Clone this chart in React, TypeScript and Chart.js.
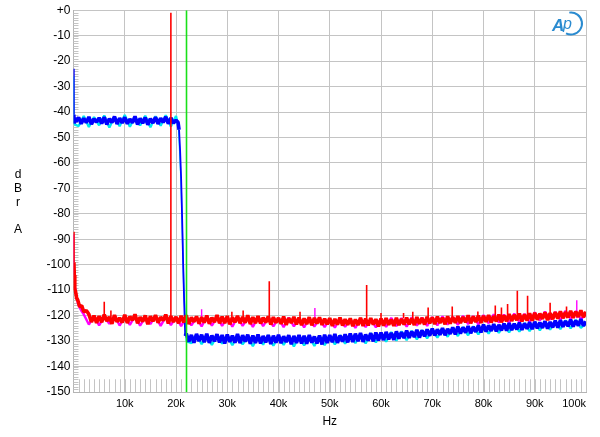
import { useEffect, useRef } from "react";
import { Chart, registerables } from "chart.js";
Chart.register(...registerables);

const range = (a: number, b: number, s: number) => {
  const r: number[] = [];
  for (let v = a; v <= b; v += s) r.push(v);
  return r;
};

// ---------- axes ----------
const X_MIN = 0;
const X_MAX = 100000;
const Y_MIN = -150;
const Y_MAX = 0;
const X_TICKS = [10000, 20000, 30000, 40000, 50000, 60000, 70000, 80000, 90000, 100000];
const X_TICK_LABELS = ["10k", "20k", "30k", "40k", "50k", "60k", "70k", "80k", "90k", "100k"];
const X_MINOR = range(1000, 99000, 1000);
const Y_MINOR = range(-149, -1, 1);
const Y_TITLE = ["d", "B", "r", "", "A"];
const X_TITLE = "Hz";

// ---------- red (channel 1) ----------
const RED_FREQS = [20, 80, 150, 250, 400, 600, 850, 1200, 1600, 2000, 2500, ...range(3000, 100000, 500)];
const RED_DB = [
  -87, -99, -104, -109.5, -110.5, -113, -114, -116.5, -116, -118.5, -118,
  -119.5, -122.5, -120, -122.8,
  -120.2, -122.6, -119.6, -122.1, -120.5, -123.2, -119.8, -122.4, -120.9, -122.7,
  -119.7, -122.9, -120.4, -121.8, -119.5, -123.0, -120.6, -122.3, -119.9, -123.4,
  -120.3, -122.2, -119.8, -122.8, -120.6, -121.9, -119.6, -123.1, -120.2, -122.5,
  -120.5, -123.0, -120.1, -122.6, -119.9, -123.3, -120.7, -122.4, -120.3, -123.1,
  -120.6, -122.7, -120.0, -123.2, -120.8, -122.5, -119.8, -123.0, -120.4, -122.9,
  -120.2, -123.4, -120.7, -122.6, -120.1, -123.0, -120.5, -122.8, -119.9, -123.3,
  -120.6, -122.9, -120.2, -123.1, -120.8, -122.7, -120.3, -123.5, -120.6, -122.8,
  -120.9, -123.2, -120.4, -123.6, -121.0, -122.9, -120.5, -123.4, -120.8, -123.7,
  -121.1, -123.3, -120.6, -123.8, -120.9, -123.1, -120.7, -123.6, -121.2, -123.4,
  -121.0, -124.0, -121.3, -123.5, -120.8, -123.9, -121.4, -123.6, -121.1, -124.1,
  -121.5, -123.7, -120.9, -124.0, -121.2, -123.8, -121.0, -123.5, -121.4, -124.2,
  -121.2, -123.9, -121.0, -123.6, -121.5, -124.0, -120.9, -123.7, -121.3, -123.5,
  -120.8, -123.4, -121.1, -123.7, -120.6, -123.2, -120.9, -123.5, -120.5, -123.0,
  -120.7, -123.3, -120.4, -122.9, -120.8, -123.4, -120.3, -123.1, -120.6, -122.8,
  -120.2, -122.9, -120.5, -122.6, -119.9, -123.0, -120.3, -122.5, -120.0, -122.8,
  -120.1, -122.4, -119.8, -122.7, -120.2, -122.3, -119.6, -122.6, -119.9, -122.2,
  -119.4, -122.1, -119.7, -121.8, -119.2, -122.3, -119.5, -121.9, -119.1, -122.0,
  -118.9, -121.6, -119.2, -121.3, -118.7, -121.8, -119.0, -121.4, -118.6, -121.2,
  -118.3, -121.0, -118.6, -120.7, -118.1, -120.9, -118.4, -120.5, -117.9, -120.6,
  -118.5,
];
const RED_SPIKE_FREQS = [6000, 7300, 19000, 30900, 33100, 38200, 44200, 57200, 60000, 64400, 66200, 69200, 73900, 78900, 82300, 83500, 84700, 86600, 88600, 93000, 96200];
const RED_SPIKE_DB = [-114.5, -118, -1, -118.5, -118, -106.5, -118.5, -108, -119, -119, -118.5, -116.8, -116.4, -118.4, -116, -116.8, -115.4, -110.2, -112.2, -114.9, -116.4];
const SPIKE_BASE_DB = -121;

// ---------- magenta (channel 2) ----------
const MAG_FREQS = [20, 100, 300, 600, 1000, 1500, 2000, ...range(3000, 100000, 1000)];
const MAG_DB = [
  -88, -102, -109, -113, -116, -118, -119.5,
  -123.5, -120.2, -123.8, -120.5, -123.2, -120.0, -123.9,
  -120.4, -123.6, -120.1, -123.9, -120.6, -123.3, -120.2, -124.0, -120.5, -123.7,
  -120.7, -124.1, -120.4, -123.8, -120.9, -124.2, -120.3, -123.9, -120.6, -124.0,
  -120.8, -124.3, -120.5, -124.0, -121.0, -124.4, -120.6, -124.1, -120.9, -124.2,
  -121.1, -124.5, -120.8, -124.2, -121.3, -124.6, -120.9, -124.3, -121.2, -124.5,
  -121.4, -124.7, -121.0, -124.4, -121.5, -124.8, -121.1, -124.5, -121.3, -124.6,
  -121.2, -124.4, -120.9, -124.1, -121.0, -124.3, -120.7, -123.9, -120.8, -124.0,
  -120.6, -123.8, -120.3, -123.5, -120.5, -123.6, -120.1, -123.3, -120.2, -123.4,
  -119.8, -123.0, -119.5, -122.7, -119.6, -122.8, -119.2, -122.4, -119.3, -122.5,
  -118.7, -121.9, -118.4, -121.6, -118.5, -121.7, -118.1, -121.3, -118.2, -121.4,
  -119.5,
];
const MAG_SPIKE_FREQS = [25000, 47100, 98200];
const MAG_SPIKE_DB = [-117.5, -117, -114];

// ---------- blue (channel 1, reference) ----------
const BLUE_FREQS = [20, 60, 150, 300, ...range(500, 20000, 500), 20400, 20600, 20800, 21000, 21200, 21400, 21600, 21800, ...range(22000, 100000, 500)];
const BLUE_DB = [
  -23, -41, -44.5, -42.3,
  -43.8, -42.1, -44.6, -42.5, -44.2, -41.9, -44.8, -42.7, -44.0,
  -42.3, -44.5, -42.0, -44.9, -42.6, -44.1, -41.8, -44.7, -42.4, -44.3,
  -42.1, -44.6, -42.8, -44.2, -41.7, -44.9, -42.5, -44.4, -42.2, -45.0,
  -42.6, -44.3, -42.0, -44.7, -42.4, -44.1, -41.9, -44.6, -42.3, -44.4,
  -43.2,
  -44, -47, -55, -66, -82, -100, -115, -128,
  -127.0, -130.2, -127.6, -130.6, -127.2, -130.0,
  -127.5, -130.4, -127.1, -130.7, -127.8, -130.1, -127.3, -130.5, -127.6, -130.9,
  -127.4, -130.3, -127.9, -130.6, -127.2, -130.8, -127.7, -130.2, -127.5, -131.0,
  -127.8, -130.7, -127.4, -130.9, -128.0, -130.5, -127.6, -131.1, -127.9, -130.6,
  -127.5, -130.8, -128.1, -130.4, -127.7, -131.2, -128.0, -130.7, -127.6, -130.9,
  -127.9, -131.0, -127.6, -130.6, -128.2, -130.9, -127.8, -131.3, -127.5, -130.7,
  -127.6, -130.4, -127.2, -130.7, -127.8, -130.2, -127.3, -130.5, -127.0, -130.3,
  -127.1, -130.0, -126.8, -130.3, -127.4, -129.8, -126.9, -130.1, -126.6, -129.7,
  -126.7, -129.6, -126.4, -129.3, -126.8, -129.5, -126.2, -129.0, -126.5, -128.8,
  -125.9, -128.7, -126.2, -128.4, -125.6, -128.6, -125.8, -128.1, -125.4, -127.9,
  -125.1, -127.8, -125.4, -127.5, -124.9, -127.7, -125.2, -127.2, -124.6, -127.4,
  -124.3, -127.0, -124.6, -126.7, -124.1, -126.9, -124.4, -126.4, -123.8, -126.6,
  -123.5, -126.3, -123.8, -126.0, -123.3, -126.2, -123.6, -125.8, -123.1, -125.9,
  -122.9, -125.7, -123.2, -125.4, -122.7, -125.6, -123.0, -125.2, -122.6, -125.3,
  -122.4, -125.0, -122.7, -124.8, -122.2, -125.1, -122.5, -124.6, -122.0, -124.7,
  -121.8, -124.4, -122.1, -124.2, -121.6, -124.3, -121.9, -123.9, -121.4, -124.0,
  -122.3,
];

// ---------- cyan (channel 2, reference) ----------
const CYAN_FREQS = [20, 100, 300, ...range(1000, 20000, 1000), 20500, 21000, 21500, 22000, ...range(23000, 100000, 1000)];
const CYAN_DB = [
  -26, -44, -45,
  -45.5, -41.6, -45.9, -42.0, -45.2, -41.4, -46.1, -41.8, -45.6, -41.2,
  -45.8, -41.9, -45.3, -41.5, -46.0, -41.7, -45.4, -41.3, -45.7, -41.6,
  -46, -68, -108, -130,
  -130.8, -127.5, -131.2, -128.0, -131.5, -127.8, -131.0,
  -128.2, -131.6, -127.9, -131.3, -128.4, -132.0, -128.1, -131.4, -127.7, -131.8,
  -128.3, -131.5, -128.0, -132.1, -128.5, -131.7, -128.2, -131.9, -127.9, -131.6,
  -128.1, -131.3, -127.7, -131.0, -127.5, -130.8, -127.2, -130.9, -126.9, -130.5,
  -126.8, -130.2, -126.5, -129.8, -126.2, -129.6, -126.0, -129.3, -125.7, -128.9,
  -125.5, -128.6, -125.1, -128.3, -124.8, -128.0, -124.5, -127.7, -124.2, -127.4,
  -123.9, -127.1, -123.6, -126.8, -123.4, -126.6, -123.1, -126.3, -122.9, -126.1,
  -122.7, -125.8, -122.4, -125.5, -122.2, -125.3, -121.9, -125.0, -121.7, -124.8,
  -123.0,
];

// ---------- green marker ----------
const GREEN_FREQ = 22050;
const GREEN_DB = [0, -150];

const pts = (fs: number[], vs: number[]) => {
  const n = Math.min(fs.length, vs.length);
  const out: { x: number; y: number }[] = [];
  for (let i = 0; i < n; i++) out.push({ x: fs[i], y: vs[i] });
  return out;
};
const spikes = (fs: number[], tops: number[], base: number) =>
  fs.flatMap((f, i) => [
    { x: f, y: base },
    { x: f, y: tops[i] },
    { x: f, y: null as any },
  ]);

const FONT = "'Liberation Sans', Arial, sans-serif";

const decorPlugin = {
  id: "decor",
  beforeDatasetsDraw(chart: any) {
    const { ctx, chartArea, scales } = chart;
    const { left, bottom } = chartArea;
    const x = scales.x;
    const y = scales.y;
    ctx.save();
    ctx.strokeStyle = "#c4c4c4";
    ctx.lineWidth = 1;
    ctx.beginPath();
    for (const v of Y_MINOR) {
      const py = Math.round(y.getPixelForValue(v)) + 0.5;
      ctx.moveTo(left, py);
      ctx.lineTo(left + 5, py);
    }
    const topMinor = y.getPixelForValue(-145);
    for (const f of X_MINOR) {
      const px = Math.round(x.getPixelForValue(f)) + 0.5;
      ctx.moveTo(px, bottom);
      ctx.lineTo(px, topMinor);
    }
    ctx.stroke();
    ctx.restore();
  },
  afterDraw(chart: any) {
    const { ctx, chartArea, scales } = chart;
    const x = scales.x;
    ctx.save();
    ctx.fillStyle = "#000";
    ctx.font = `11px ${FONT}`;
    ctx.textBaseline = "middle";
    X_TICKS.forEach((v, i) => {
      const px = x.getPixelForValue(v);
      if (i === X_TICKS.length - 1) {
        ctx.textAlign = "right";
        ctx.fillText(X_TICK_LABELS[i], chartArea.right, 404);
      } else {
        ctx.textAlign = "center";
        ctx.fillText(X_TICK_LABELS[i], px, 404);
      }
    });
    ctx.textAlign = "center";
    ctx.font = `12px ${FONT}`;
    ctx.fillText(X_TITLE, (chartArea.left + chartArea.right) / 2, 422);
    Y_TITLE.forEach((t, i) => {
      if (t) ctx.fillText(t, 18, 175 + i * 13.7);
    });
    // AP logo
    ctx.fillStyle = "#2a8bd0";
    ctx.strokeStyle = "#2a8bd0";
    ctx.font = `italic bold 17px ${FONT}`;
    ctx.textAlign = "left";
    ctx.textBaseline = "alphabetic";
    ctx.fillText("A", 552, 31);
    ctx.font = `italic 16px ${FONT}`;
    ctx.fillText("p", 563, 29);
    ctx.lineWidth = 2;
    ctx.beginPath();
    ctx.arc(571, 23.5, 11, -Math.PI * 0.55, Math.PI * 0.65);
    ctx.stroke();
    ctx.restore();
  },
};

export default function App() {
  const ref = useRef<HTMLCanvasElement>(null);
  useEffect(() => {
    document.body.style.margin = "0";
    const steepThin = (thin: number) => ({
      borderWidth: (c: any) => (Math.abs(c.p1.y - c.p0.y) > 14 ? thin : undefined),
    });
    const line = (data: any[], color: string, width: number, thin?: number) => ({
      data,
      borderColor: color,
      backgroundColor: color,
      borderWidth: width,
      borderJoinStyle: "bevel",
      pointRadius: 0,
      tension: 0,
      spanGaps: false,
      fill: false,
      ...(thin ? { segment: steepThin(thin) } : {}),
    });
    const chart = new Chart(ref.current!, {
      type: "line",
      data: {
        datasets: [
          line([{ x: GREEN_FREQ, y: GREEN_DB[0] }, { x: GREEN_FREQ, y: GREEN_DB[1] }], "#19e019", 1.6),
          line(spikes(RED_SPIKE_FREQS, RED_SPIKE_DB, SPIKE_BASE_DB), "#ff0000", 1.6),
          line(pts(RED_FREQS, RED_DB), "#ff0000", 3.6, 1.8),
          line(pts(BLUE_FREQS, BLUE_DB), "#0000ff", 3.6, 1.8),
          line(spikes(MAG_SPIKE_FREQS, MAG_SPIKE_DB, SPIKE_BASE_DB), "#ff00ff", 1.4),
          line(pts(MAG_FREQS, MAG_DB), "#ff00ff", 2.4, 1.4),
          line(pts(CYAN_FREQS, CYAN_DB), "#00e8f0", 2.4, 1.4),
        ] as any,
      },
      options: {
        animation: false,
        responsive: true,
        maintainAspectRatio: false,
        parsing: true,
        layout: { padding: { top: 10, right: 14, left: 0, bottom: 0 } },
        plugins: { legend: { display: false }, tooltip: { enabled: false } },
        scales: {
          x: {
            type: "linear",
            min: X_MIN,
            max: X_MAX,
            ticks: { display: false, stepSize: 10000 },
            grid: { color: "#c4c4c4", lineWidth: 1, drawTicks: false },
            border: { display: true, color: "#b4b4b4" },
            afterFit: (s: any) => {
              s.height = 45;
            },
          },
          y: {
            type: "linear",
            min: Y_MIN,
            max: Y_MAX,
            ticks: {
              stepSize: 10,
              color: "#000",
              padding: 3,
              font: { family: FONT, size: 12 },
              callback: (v: any) => (v === 0 ? "+0" : String(v)),
            },
            grid: { color: "#c4c4c4", lineWidth: 1, drawTicks: false },
            border: { display: true, color: "#b4b4b4" },
            afterFit: (s: any) => {
              s.width = 73.5;
            },
          },
        },
      },
      plugins: [decorPlugin],
    } as any);
    return () => chart.destroy();
  }, []);
  return (
    <div style={{ position: "relative", width: 600, height: 437 }}>
      <canvas ref={ref} />
    </div>
  );
}
